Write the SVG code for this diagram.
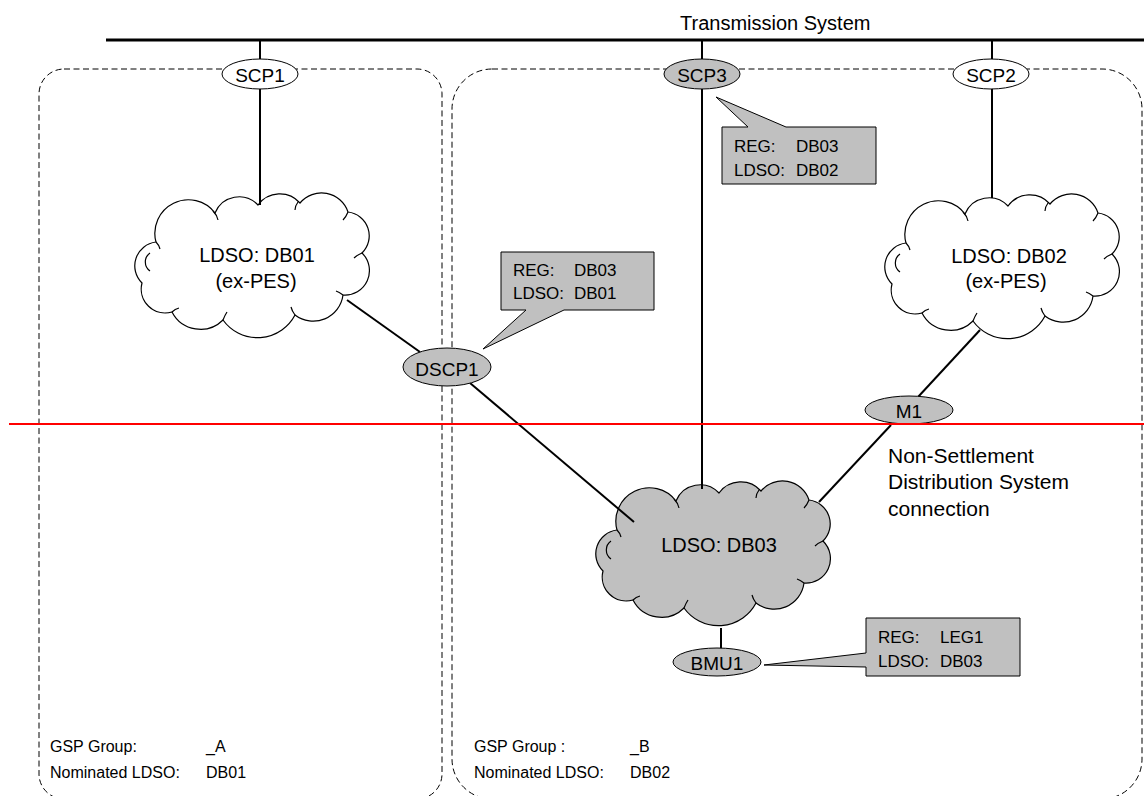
<svg xmlns="http://www.w3.org/2000/svg" width="1144" height="796" viewBox="0 0 1144 796">
<style>
text{font-family:"Liberation Sans",Arial,sans-serif;fill:#000}
.dash{fill:none;stroke:#000;stroke-width:1;stroke-dasharray:6 3.5}
.conn{stroke:#000;stroke-width:2;fill:none}
.node{stroke:#000;stroke-width:1}
.w{fill:#fff}
.g{fill:#c0c0c0}
.lbl{font-size:19px;text-anchor:middle}
.cl{font-size:20px;text-anchor:middle}
.co{font-size:17px}
.bt{font-size:16px}
.cloud{stroke:#000;stroke-width:1.2}
</style>
<defs>
<g id="cloudShape">
<path d="M21,47 A33.5,33.5 0 0 1 80,18 A26,26 0 0 1 123,10 A27,27 0 0 1 165,8 A28,28 0 0 1 213,17 A24,24 0 0 1 227,58 A24.5,24.5 0 0 1 208,100 A30,30 0 0 1 160,120 A42.4,42.4 0 0 1 88,125 A32,32 0 0 1 37,117 A24,24 0 0 1 7,88 A24,24 0 0 1 21,47 Z"/>
<path d="M15,58 A11,11 0 0 0 15,76 M78,16 Q82,20 83,25 M163,7 Q160,11 160,15 M213,17 Q211,22 208,25 M227,58 Q222,60 219,63 M208,100 Q204,97 201,96 M160,120 Q157,116 156,112 M88,125 Q90,120 92,117 M37,117 Q40,114 44,113 M21,47 Q24,50 25,54" fill="none"/>
</g>
</defs>

<g id="groups">
<rect x="39" y="69" width="403" height="730" rx="25" class="dash"/>
<rect x="452" y="69" width="690" height="730" rx="40" class="dash"/>
</g>

<g id="transmission">
<line x1="106" y1="40" x2="1144" y2="40" stroke="#000" stroke-width="3"/>
<text x="680" y="30" font-size="20">Transmission System</text>
</g>

<g id="cloud-db01" class="cloud" fill="#fff">
<use href="#cloudShape" transform="translate(135,195)"/>
<text class="cl" x="257" y="262" stroke="none">LDSO: DB01</text>
<text class="cl" x="256" y="288" stroke="none">(ex-PES)</text>
</g>
<g id="cloud-db02" class="cloud" fill="#fff">
<use href="#cloudShape" transform="translate(885,196)"/>
<text class="cl" x="1009" y="263" stroke="none">LDSO: DB02</text>
<text class="cl" x="1006" y="288" stroke="none">(ex-PES)</text>
</g>
<g id="cloud-db03" class="cloud" fill="#c0c0c0">
<use href="#cloudShape" transform="translate(596,483)"/>
<text class="cl" x="719" y="552" stroke="none">LDSO: DB03</text>
</g>

<g id="connectors">
<line class="conn" x1="260" y1="40" x2="260" y2="205" stroke-width="2.5"/>
<line class="conn" x1="702" y1="40" x2="702" y2="489" stroke-width="2.5"/>
<line class="conn" x1="992" y1="40" x2="992" y2="198" stroke-width="2.5"/>
<line class="conn" x1="347" y1="300" x2="420" y2="352"/>
<line class="conn" x1="470" y1="383" x2="634" y2="522"/>
<line class="conn" x1="980" y1="330" x2="918" y2="397"/>
<line class="conn" x1="891" y1="425" x2="819" y2="502"/>
<line class="conn" x1="721" y1="628" x2="721" y2="650" stroke-width="3"/>
</g>

<g id="scp1"><ellipse class="node w" cx="260" cy="74" rx="38" ry="15"/><text class="lbl" x="260" y="82">SCP1</text></g>
<g id="scp3"><ellipse class="node g" cx="702" cy="74" rx="38" ry="15"/><text class="lbl" x="702" y="82">SCP3</text></g>
<g id="scp2"><ellipse class="node w" cx="991" cy="74" rx="38" ry="15"/><text class="lbl" x="991" y="82">SCP2</text></g>
<g id="dscp1"><ellipse class="node g" cx="447" cy="367" rx="44" ry="19"/><text class="lbl" x="447" y="376">DSCP1</text></g>
<g id="m1"><ellipse class="node g" cx="909" cy="410" rx="44" ry="14"/><text class="lbl" x="909" y="418">M1</text></g>
<g id="bmu1"><ellipse class="node g" cx="717" cy="662" rx="44" ry="14"/><text class="lbl" x="717" y="670">BMU1</text></g>

<g id="callout-scp3">
<path class="node g" d="M722,127 H748 L716,97 L786,127 H876 V184 H722 Z"/>
<text class="co" x="734" y="152">REG:</text><text class="co" x="796" y="152">DB03</text>
<text class="co" x="734" y="176">LDSO:</text><text class="co" x="796" y="176">DB02</text>
</g>
<g id="callout-dscp1">
<path class="node g" d="M501,252 H654 V310 H564 L483,349 L526,310 H501 Z"/>
<text class="co" x="513" y="276">REG:</text><text class="co" x="574" y="276">DB03</text>
<text class="co" x="513" y="299">LDSO:</text><text class="co" x="574" y="299">DB01</text>
</g>
<g id="callout-bmu1">
<path class="node g" d="M866,618 H1020 V676 H866 V667 L764,665 L866,653 Z"/>
<text class="co" x="878" y="643">REG:</text><text class="co" x="940" y="643">LEG1</text>
<text class="co" x="878" y="667">LDSO:</text><text class="co" x="940" y="667">DB03</text>
</g>

<g id="boundary">
<line x1="9" y1="424" x2="1144" y2="424" stroke="#ff0000" stroke-width="2"/>
</g>

<g id="nsds-label">
<text x="888" y="463" font-size="21">Non-Settlement</text>
<text x="888" y="489" font-size="21">Distribution System</text>
<text x="888" y="516" font-size="21">connection</text>
</g>

<g id="gsp-labels">
<text class="bt" x="50" y="752">GSP Group:</text><text class="bt" x="206" y="752">_A</text>
<text class="bt" x="50" y="778">Nominated LDSO:</text><text class="bt" x="206" y="778">DB01</text>
<text class="bt" x="474" y="752">GSP Group :</text><text class="bt" x="630" y="752">_B</text>
<text class="bt" x="474" y="778">Nominated LDSO:</text><text class="bt" x="630" y="778">DB02</text>
</g>
</svg>
